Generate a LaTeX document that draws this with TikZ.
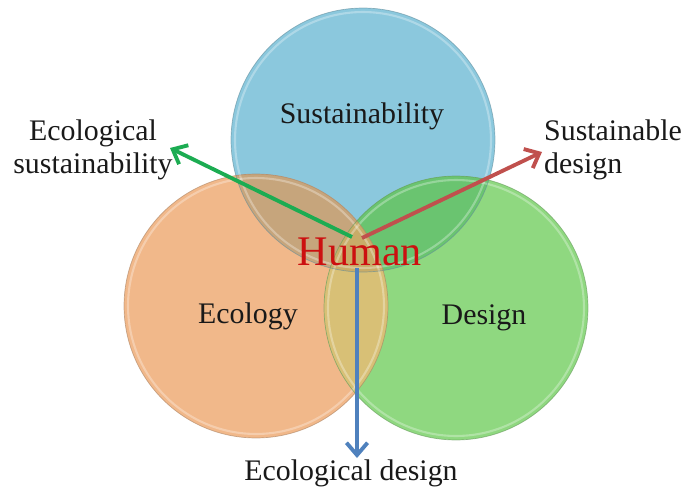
\documentclass[tikz,border=0pt]{standalone}
\usepackage{fontspec}
\setmainfont{Liberation Serif}
\usetikzlibrary{arrows.meta}

\definecolor{susblue}{RGB}{139,200,221}
\definecolor{ecoorange}{RGB}{241,184,138}
\definecolor{desgreen}{RGB}{143,216,128}
\definecolor{sbmix}{RGB}{198,165,124}
\definecolor{sgmix}{RGB}{106,196,112}
\definecolor{egmix}{RGB}{216,192,118}
\definecolor{allmix}{RGB}{200,172,104}
\definecolor{humanred}{RGB}{204,16,16}
\definecolor{arrgreen}{RGB}{28,172,82}
\definecolor{arrred}{RGB}{192,80,77}
\definecolor{arrblue}{RGB}{79,129,189}

\begin{document}
\begin{tikzpicture}[x=0.02cm, y=-0.02cm,
		circ/.style={circle, minimum size=5.28cm, inner sep=0pt},
		lbl/.style={font=\fontsize{17}{18.5}\selectfont, text=black!90},
		arr/.style={line width=2.2pt, -{Straight Barb[length=7pt, width=12pt]}}]
			\useasboundingbox (0,0) rectangle (683,497);
			\node (sus) at (363,140) [circ, fill=susblue] {};
			\node (eco) at (256,306) [circ, fill=ecoorange] {};
			\node (des) at (456,308) [circ, fill=desgreen] {};
			\begin{scope}
				\clip (sus.center) circle[radius=2.64cm];
				\fill[sbmix] (eco.center) circle[radius=2.64cm];
				\fill[sgmix] (des.center) circle[radius=2.64cm];
			\end{scope}
			\begin{scope}
				\clip (eco.center) circle[radius=2.64cm];
				\fill[egmix] (des.center) circle[radius=2.64cm];
				\clip (sus.center) circle[radius=2.64cm];
				\fill[allmix] (des.center) circle[radius=2.64cm];
			\end{scope}
			\draw[white, opacity=0.3, line width=1.2pt] (sus.center) circle[radius=2.56cm];
			\draw[white, opacity=0.3, line width=1.2pt] (eco.center) circle[radius=2.56cm];
			\draw[white, opacity=0.3, line width=1.2pt] (des.center) circle[radius=2.56cm];
			\draw[susblue!70!black, opacity=0.6, thin] (sus.center) circle[radius=2.64cm];
			\draw[ecoorange!70!black, opacity=0.6, thin] (eco.center) circle[radius=2.64cm];
			\draw[desgreen!70!black, opacity=0.6, thin] (des.center) circle[radius=2.64cm];
			\node (sustxt) at (362,116) [lbl] {Sustainability};
			\node (ecotxt) at (248,316) [lbl] {Ecology};
			\node (destxt) at (484,318) [lbl] {Design};
			\node (ecosus) at (93,150) [lbl, align=center] {Ecological\\sustainability};
			\node (susdes) at (538,150) [lbl, anchor=west, align=left] {Sustainable\\design};
			\node (ecodes) at (351,473) [lbl] {Ecological design};
			\coordinate (hubl) at (352,237);
			\coordinate (hubr) at (362,238);
			\coordinate (hubd) at (357,268);
			\coordinate (tipl) at (170,148);
			\coordinate (tipr) at (542,152);
			\coordinate (tipd) at (357,458);
			\draw[arr, arrgreen] (hubl) -- (tipl);
			\draw[arr, arrred] (hubr) -- (tipr);
			\draw[arr, arrblue] (hubd) -- (tipd);
			\node (human) at (360,252) [font=\fontsize{24}{26}\selectfont, text=humanred] {Human};
		\end{tikzpicture}
\end{document}
